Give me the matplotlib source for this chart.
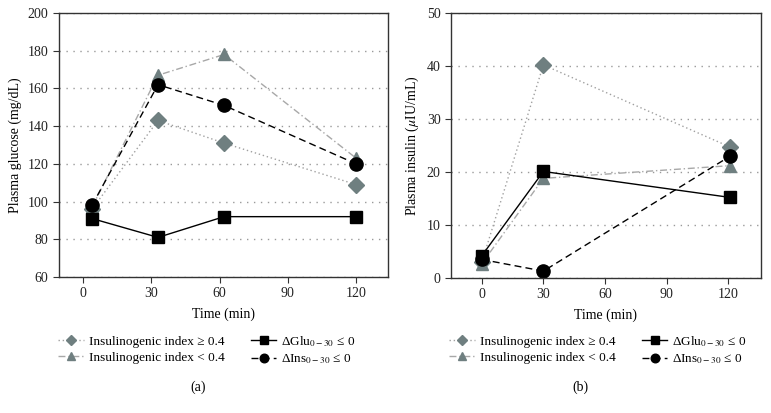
import numpy as np
import matplotlib
matplotlib.use('Agg')
import matplotlib.pyplot as plt
from matplotlib.lines import Line2D

plt.rcParams['font.family'] = ['Liberation Serif', 'DejaVu Serif']
plt.rcParams['mathtext.fontset'] = 'stix'

# Panel (a): plasma glucose
time_a = [4, 33, 62, 120]
glu_ii_high = [96, 143, 131, 109]
glu_ii_low = [97, 167, 178, 123]
glu_dglu = [91, 81, 92, 92]
glu_dins = [98, 162, 151, 120]

# Panel (b): plasma insulin
time_b = [0, 30, 121]
ins_ii_high = [3.0, 40.2, 24.7]
ins_ii_low = [2.7, 18.8, 21.2]
ins_dglu = [4.2, 20.1, 15.2]
ins_dins = [3.5, 1.3, 23.0]

xticks = [0, 30, 60, 90, 120]
labels = ['Insulinogenic index \u2265 0.4', 'Insulinogenic index < 0.4',
          '\u0394Glu$_{0-30}$ \u2264 0', '\u0394Ins$_{0-30}$ \u2264 0']

grey = '#6f7f80'
styles = [
    dict(marker='D', color='#a0a0a0', ls=(0, (1, 2)), mfc=grey, mec=grey, ms=8),
    dict(marker='^', color='#a8a8a8', ls=(0, (5, 2, 1, 2)), mfc=grey, mec=grey, ms=9),
    dict(marker='s', color='black', ls='-', mfc='black', mec='black', ms=9),
    dict(marker='o', color='black', ls=(0, (5, 3)), mfc='black', mec='black', ms=9.5),
]

fs = 9.5

fig = plt.figure(figsize=(7.71, 4.13), dpi=100)
ax1 = fig.add_axes([59 / 771, 1 - 277 / 413, 329 / 771, 264 / 413])
ax2 = fig.add_axes([451 / 771, 1 - 278 / 413, 310 / 771, 265 / 413])


def draw(ax, t, series, xlim, ylim, yticks, ylabel):
    for vals, st in zip(series, styles):
        ax.plot(t, vals, lw=1, **st)
    ax.set_xlim(*xlim)
    ax.set_ylim(*ylim)
    ax.set_xticks(xticks)
    ax.set_yticks(yticks)
    ax.yaxis.grid(True, ls=(0, (1, 4)), color='#9a9a9a', lw=1)
    ax.set_axisbelow(True)
    for s in ax.spines.values():
        s.set_color('#333333')
        s.set_linewidth(1)
    ax.tick_params(length=4, color='#333333', labelsize=fs + 0.5, colors='#222222')
    ax.set_xlabel('Time (min)', fontsize=fs + 0.5, labelpad=5)
    ax.set_ylabel(ylabel, fontsize=fs + 0.5, labelpad=4)


draw(ax1, time_a, [glu_ii_high, glu_ii_low, glu_dglu, glu_dins],
     (-10.5, 134), (60, 200), np.arange(60, 201, 20), 'Plasma glucose (mg/dL)')
draw(ax2, time_b, [ins_ii_high, ins_ii_low, ins_dglu, ins_dins],
     (-15, 136), (0, 50), np.arange(0, 51, 10), r'Plasma insulin ($\mu$IU/mL)')

handles = []
for st in styles:
    h = dict(st)
    h['ms'] = st['ms'] * 0.65
    handles.append(Line2D([], [], lw=1, **h))

for cx in [207 / 771, 598 / 771]:
    fig.legend(handles, labels, ncol=2, loc='center', bbox_to_anchor=(cx, 1 - 350 / 413),
               frameon=False, fontsize=fs, handlelength=1.9, handletextpad=0.4,
               columnspacing=2.0, labelspacing=0.3, borderpad=0)

fig.text(198 / 771, 1 - 387 / 413, '(a)', ha='center', va='center', fontsize=fs + 0.5)
fig.text(580 / 771, 1 - 387 / 413, '(b)', ha='center', va='center', fontsize=fs + 0.5)

fig.savefig('out.png', dpi=100)
